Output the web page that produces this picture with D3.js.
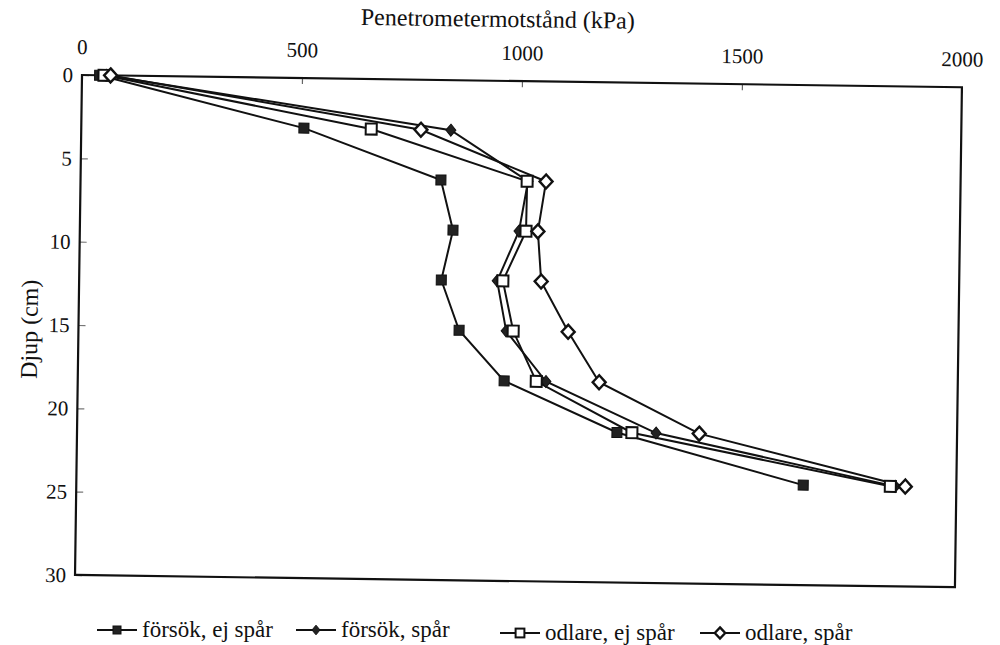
<!DOCTYPE html>
<html>
<head>
<meta charset="utf-8">
<script src="https://cdn.jsdelivr.net/npm/d3@7/dist/d3.min.js"></script>
<style>
  html, body { margin: 0; padding: 0; background: #fff; }
  svg { display: block; }
</style>
</head>
<body>
<svg id="chart" width="1000" height="645"></svg>
<script>
// ---- data ----
const depths = [0, 3, 6, 9, 12, 15, 18, 21, 24];
const forsokEjSpar  = [40, 506, 819, 848, 823, 865, 969, 1227, 1652];
const forsokSpar    = [55, 840, 1017, 998, 950, 972, 1064, 1316, 1861];
const odlareEjSpar  = [50, 659, 1015, 1014, 963, 988, 1042, 1261, 1850];
const odlareSpar    = [65, 772, 1058, 1041, 1050, 1113, 1185, 1414, 1884];
const seriesNames = ["försök, ej spår", "försök, spår", "odlare, ej spår", "odlare, spår"];
const xTicks = [0, 500, 1000, 1500, 2000];
const yTicks = [0, 5, 10, 15, 20, 25, 30];
const xTitle = "Penetrometermotstånd (kPa)";
const yTitle = "Djup (cm)";

const FONT = "Liberation Serif";

// ---- layout ----
const W = 880, H = 500;
const svg = d3.select("#chart");
const g = svg.append("g").attr("transform", "translate(82,75) rotate(0.8)");

const x = d3.scaleLinear().domain([0, 2000]).range([0, W]);
const y = d3.scaleLinear().domain([0, 30]).range([0, H]);

// inner ticks
const xAx = g.append("g").call(d3.axisTop(x).tickValues(xTicks).tickSize(-6).tickFormat(""));
xAx.select(".domain").remove();
xAx.selectAll(".tick line").attr("stroke", "#666").attr("stroke-width", 1.2);
const yAx = g.append("g").call(d3.axisLeft(y).tickValues(yTicks).tickSize(-7).tickFormat(""));
yAx.select(".domain").remove();
yAx.selectAll(".tick line").attr("stroke", "#777").attr("stroke-width", 1.2);

// tick labels
g.selectAll(".xlab").data(xTicks).enter().append("text")
  .attr("font-family", FONT).attr("fill", "#111")
  .attr("x", d => x(d)).attr("y", -21)
  .attr("text-anchor", "middle").attr("font-size", 21).text(d => d);
g.selectAll(".ylab").data(yTicks).enter().append("text")
  .attr("font-family", FONT).attr("fill", "#111")
  .attr("x", -9).attr("y", d => y(d)).attr("dy", "0.35em")
  .attr("text-anchor", "end").attr("font-size", 21).text(d => d);

// titles
g.append("text").attr("font-family", FONT).attr("fill", "#111")
  .attr("x", 415).attr("y", -54).attr("text-anchor", "middle")
  .attr("font-size", 24).text(xTitle);
g.append("text").attr("font-family", FONT).attr("fill", "#111")
  .attr("transform", "translate(-41,255) rotate(-90)")
  .attr("text-anchor", "middle").attr("font-size", 24).text(yTitle);

// frame
g.append("rect").attr("x", 0).attr("y", 0).attr("width", W).attr("height", H)
  .attr("fill", "none").attr("stroke", "#111").attr("stroke-width", 2.2);

// ---- series ----
const series = [
  { name: seriesNames[0], vals: forsokEjSpar, marker: "sqFill" },
  { name: seriesNames[1], vals: forsokSpar, marker: "diaFill" },
  { name: seriesNames[2], vals: odlareEjSpar, marker: "sqOpen" },
  { name: seriesNames[3], vals: odlareSpar, marker: "diaOpen" }
];

const line = d3.line().x(d => x(d.v)).y(d => y(d.d));

function drawMarker(sel, type, k) {
  k = k || 1;
  if (type === "sqFill") {
    sel.append("rect").attr("x", -5 * k).attr("y", -5 * k).attr("width", 10 * k).attr("height", 10 * k)
      .attr("fill", "#222").attr("stroke", "#111").attr("stroke-width", 1);
  } else if (type === "diaFill") {
    sel.append("path").attr("d", `M0,${-6 * k}L${5 * k},0L0,${6 * k}L${-5 * k},0Z`).attr("fill", "#222")
      .attr("stroke", "#111").attr("stroke-width", 1);
  } else if (type === "sqOpen") {
    sel.append("rect").attr("x", -5.5 * k).attr("y", -5.5 * k).attr("width", 11 * k).attr("height", 11 * k)
      .attr("fill", "#fff").attr("stroke", "#111").attr("stroke-width", 2);
  } else {
    sel.append("path").attr("d", `M0,${-7 * k}L${6.5 * k},0L0,${7 * k}L${-6.5 * k},0Z`).attr("fill", "#fff")
      .attr("stroke", "#111").attr("stroke-width", 2.4);
  }
}

series.forEach(s => {
  const pts = depths.map((d, i) => ({ d: d, v: s.vals[i] }));
  g.append("path").datum(pts).attr("d", line)
    .attr("fill", "none").attr("stroke", "#111").attr("stroke-width", 2);
});
series.forEach(s => {
  const pts = depths.map((d, i) => ({ d: d, v: s.vals[i] }));
  g.selectAll(null).data(pts).enter().append("g")
    .attr("transform", p => `translate(${x(p.v)},${y(p.d)})`)
    .each(function () { drawMarker(d3.select(this), s.marker); });
});

// ---- legend ----
const legendX = [97, 296, 500, 700];
const legendY = [630, 630, 633, 633];
series.forEach((s, i) => {
  const lg = svg.append("g").attr("transform", `translate(${legendX[i]},${legendY[i]})`);
  lg.append("line").attr("x1", 0).attr("x2", 40).attr("y1", 0).attr("y2", 0)
    .attr("stroke", "#111").attr("stroke-width", 2);
  drawMarker(lg.append("g").attr("transform", "translate(20,0)"), s.marker, 0.8);
  lg.append("text").attr("font-family", FONT).attr("fill", "#111")
    .attr("x", 45).attr("y", 0).attr("dy", "0.3em")
    .attr("font-size", 23).text(s.name);
});
</script>
</body>
</html>
